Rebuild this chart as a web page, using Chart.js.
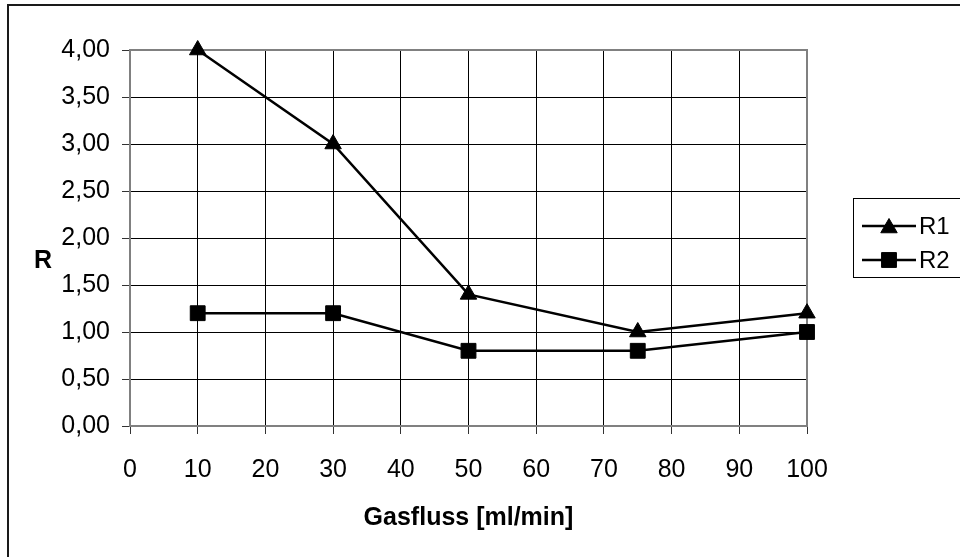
<!DOCTYPE html>
<html><head><meta charset="utf-8">
<script src="https://cdn.jsdelivr.net/npm/chart.js@4/dist/chart.umd.min.js"></script>
<style>html,body{margin:0;padding:0;background:#fff;overflow:hidden}#wrap{width:960px;height:557px;position:relative}canvas{display:block}</style>
</head><body><div id="wrap"><canvas id="c" width="960" height="557"></canvas></div>
<script>
// ---- data ----
const gasflow = [10, 30, 50, 75, 100];
const r1Values = [4.0, 3.0, 1.4, 1.0, 1.2];
const r2Values = [1.2, 1.2, 0.8, 0.8, 1.0];
const seriesNames = ['R1', 'R2'];
const xTitle = 'Gasfluss [ml/min]';
const yTitle = 'R';

const FONT = "'Liberation Sans', Arial, sans-serif";
Chart.defaults.font.family = FONT;
Chart.defaults.font.size = 25;
Chart.defaults.color = '#000';

function pts(xs, ys) { return xs.map((x, i) => ({x: x, y: ys[i]})); }

function drawMarker(ctx, style, r, x, y) {
  ctx.beginPath();
  if (style === 'triangle') {
    let rad = 0;
    ctx.moveTo(x + Math.sin(rad) * r, y - Math.cos(rad) * r);
    rad += 2 * Math.PI / 3;
    ctx.lineTo(x + Math.sin(rad) * r, y - Math.cos(rad) * r);
    rad += 2 * Math.PI / 3;
    ctx.lineTo(x + Math.sin(rad) * r, y - Math.cos(rad) * r);
    ctx.closePath();
  } else {
    const s = Math.SQRT1_2 * r;
    ctx.rect(x - s, y - s, 2 * s, 2 * s);
  }
  ctx.fill();
  ctx.stroke();
}

const decor = {
  id: 'decor',
  beforeDatasetsDraw(chart) {
    const {ctx, chartArea: a} = chart;
    ctx.save();
    ctx.strokeStyle = '#808080';
    ctx.lineWidth = 2;
    ctx.strokeRect(a.left, a.top, a.right - a.left, a.bottom - a.top);
    ctx.restore();
  },
  afterDraw(chart) {
    const ctx = chart.ctx;
    ctx.save();
    // outer frame (left & top visible)
    ctx.strokeStyle = '#1a1a1a';
    ctx.lineWidth = 2;
    ctx.beginPath();
    ctx.moveTo(8, 557); ctx.lineTo(8, 5); ctx.lineTo(960, 5);
    ctx.stroke();
    // y title, horizontal
    ctx.fillStyle = '#000';
    ctx.font = 'bold 25px ' + FONT;
    ctx.textAlign = 'center';
    ctx.textBaseline = 'middle';
    ctx.fillText(yTitle, 43, 261);
    // legend
    ctx.strokeStyle = '#000';
    ctx.lineWidth = 1;
    ctx.strokeRect(853.5, 198.5, 130, 79);
    const ys = [226, 260];
    chart.data.datasets.forEach((ds, i) => {
      const y = ys[i];
      ctx.strokeStyle = ds.borderColor;
      ctx.lineWidth = ds.borderWidth;
      ctx.beginPath(); ctx.moveTo(862, y); ctx.lineTo(916, y); ctx.stroke();
      ctx.fillStyle = ds.pointBackgroundColor;
      ctx.strokeStyle = ds.pointBorderColor;
      ctx.lineWidth = ds.pointBorderWidth;
      drawMarker(ctx, ds.pointStyle, ds.pointRadius, 889, y + (ds.pointStyle === 'triangle' ? 2 : 0));
      ctx.fillStyle = '#000';
      ctx.font = '24px ' + FONT;
      ctx.textAlign = 'left';
      ctx.textBaseline = 'middle';
      ctx.fillText(ds.label, 919, y + 1);
    });
    ctx.restore();
  }
};

new Chart(document.getElementById('c'), {
  type: 'line',
  data: {
    datasets: [
      {label: seriesNames[0], data: pts(gasflow, r1Values), borderColor: '#000', borderWidth: 2.5,
       pointStyle: 'triangle', pointRadius: 9.5, pointBackgroundColor: '#000', pointBorderColor: '#000', pointBorderWidth: 1, clip: false, tension: 0},
      {label: seriesNames[1], data: pts(gasflow, r2Values), borderColor: '#000', borderWidth: 2.5,
       pointStyle: 'rect', pointRadius: 10.5, pointBackgroundColor: '#000', pointBorderColor: '#000', pointBorderWidth: 1, clip: false, tension: 0}
    ]
  },
  options: {
    responsive: false,
    animation: false,
    devicePixelRatio: 1,
    layout: {padding: {left: 0, top: 50, right: 153, bottom: 24}},
    plugins: {legend: {display: false}, tooltip: {enabled: false}},
    scales: {
      x: {
        type: 'linear', min: 0, max: 100,
        afterFit(s) { s.height = 107; },
        ticks: {stepSize: 10, padding: 21, maxRotation: 0, autoSkip: false, font: {size: 25}, color: '#000'},
        grid: {color: '#000', lineWidth: 1, tickLength: 8, tickColor: '#333'},
        border: {display: false},
        title: {display: true, text: xTitle, font: {size: 25, weight: 'bold'}, color: '#000', padding: {top: 0, bottom: 0}}
      },
      y: {
        type: 'linear', min: 0, max: 4,
        afterFit(s) { s.width = 130; },
        ticks: {stepSize: 0.5, padding: 12, font: {size: 25}, color: '#000',
                callback: v => Number(v).toFixed(2).replace('.', ',')},
        grid: {color: '#000', lineWidth: 1, tickLength: 8, tickColor: '#333'},
        border: {display: false}
      }
    }
  },
  plugins: [decor]
});
</script>
</body></html>
